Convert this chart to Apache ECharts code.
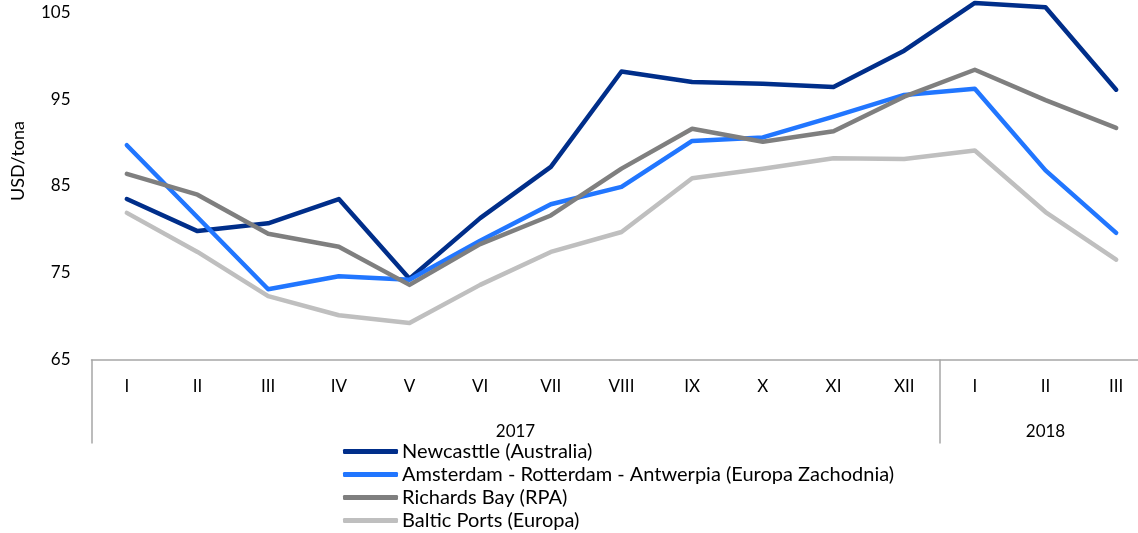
<!DOCTYPE html>
<html>
<head>
<meta charset="utf-8">
<script src="https://cdn.jsdelivr.net/npm/echarts@6/dist/echarts.min.js"></script>
<style>
html,body{margin:0;padding:0;background:#fff;}
#chart{width:1138px;height:533px;}
</style>
</head>
<body>
<div id="chart"></div>
<script>
// miesiace i lata
var months = ['I','II','III','IV','V','VI','VII','VIII','IX','X','XI','XII','I','II','III'];
var years = ['2017','2018'];
var yearMonths = [12, 3];

// ceny wegla USD/tona
var newcastle = [83.5,79.8,80.7,83.5,74.3,81.3,87.2,98.2,97.0,96.8,96.4,100.6,106.1,105.6,96.1];
var ara = [89.7,81.4,73.1,74.6,74.2,78.7,82.9,84.9,90.2,90.6,93.0,95.5,96.2,86.8,79.6];
var richardsBay = [86.4,84.0,79.5,78.0,73.6,78.3,81.6,87.0,91.6,90.1,91.3,95.3,98.4,94.9,91.7];
var baltic = [81.9,77.4,72.3,70.1,69.2,73.6,77.4,79.7,85.9,87.0,88.2,88.1,89.1,82.0,76.5];

var yTicks = [65, 75, 85, 95, 105];

// granice lat i srodki etykiet
var bounds = [0], centers = [];
yearMonths.forEach(function(n){
  var start = bounds[bounds.length-1];
  centers.push(start + n/2);
  bounds.push(start + n);
});

var font = 'Lato';
var axisGray = '#A6A6A6';

function line(name, data, color){
  return {
    name: name,
    type: 'line',
    data: data,
    symbol: 'none',
    clip: false,
    lineStyle: {width: 4.5, color: color, cap: 'round', join: 'round'},
    itemStyle: {color: color}
  };
}

var myChart = echarts.init(document.getElementById('chart'));
myChart.setOption({
  animation: false,
  textStyle: {fontFamily: font},
  grid: {left: 91.5, top: 12.5, height: 347, width: 1060, outerBoundsMode: 'none', containLabel: false},
  legend: {
    orient: 'vertical',
    left: 343,
    top: 441.5,
    padding: 0,
    icon: 'roundRect',
    itemWidth: 55,
    itemHeight: 5,
    itemGap: 3,
    textStyle: {fontFamily: font, fontSize: 20, color: '#000', lineHeight: 20, padding: [0,0,0,-1]},
    data: ['Newcasttle (Australia)','Amsterdam - Rotterdam - Antwerpia (Europa Zachodnia)','Richards Bay (RPA)','Baltic Ports (Europa)']
  },
  xAxis: [
    {
      type: 'category',
      data: months,
      boundaryGap: true,
      axisLine: {lineStyle: {color: axisGray, width: 1.5}},
      axisTick: {show: false},
      axisLabel: {color: '#000', fontSize: 17, margin: 19, interval: 0}
    },
    {
      type: 'value',
      min: 0,
      max: 15,
      position: 'bottom',
      axisLine: {show: false},
      splitLine: {show: false},
      axisTick: {
        show: true,
        customValues: bounds,
        length: 84,
        lineStyle: {color: axisGray, width: 1.5}
      },
      axisLabel: {
        customValues: centers,
        color: '#000',
        fontSize: 17,
        margin: 64,
        formatter: function(v){
          for (var i = 0; i < centers.length; i++) {
            if (Math.abs(centers[i]-v) < 0.01) return years[i];
          }
          return '';
        }
      }
    }
  ],
  yAxis: {
    type: 'value',
    min: yTicks[0],
    max: yTicks[yTicks.length-1],
    interval: 10,
    name: 'USD/tona',
    nameLocation: 'middle',
    nameRotate: 90,
    nameGap: 73,
    nameTextStyle: {color: '#000', fontSize: 18, fontFamily: font, verticalAlign: 'middle', align: 'center', padding: [0,0,0,50]},
    axisLine: {show: false},
    axisTick: {show: false},
    splitLine: {show: false},
    axisLabel: {color: '#000', fontSize: 17, margin: 21}
  },
  series: [
    line('Newcasttle (Australia)', newcastle, '#002E8A'),
    line('Amsterdam - Rotterdam - Antwerpia (Europa Zachodnia)', ara, '#2176FF'),
    line('Richards Bay (RPA)', richardsBay, '#7F7F7F'),
    line('Baltic Ports (Europa)', baltic, '#BFBFBF')
  ]
});
</script>
</body>
</html>
